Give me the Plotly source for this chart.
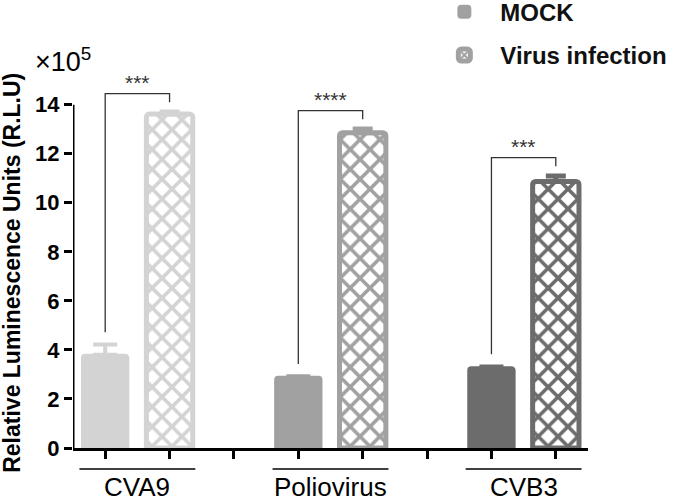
import plotly.graph_objects as go

categories = ["CVA9", "Poliovirus", "CVB3"]
series_names = ["MOCK", "Virus infection"]
mock_vals = [3.8, 2.91, 3.29]
mock_err = [0.42, 0.02, 0.03]
virus_vals = [13.62, 12.86, 10.87]
virus_err = [0.08, 0.15, 0.22]
significance = ["***", "****", "***"]
bar_colors = ["#d3d3d3", "#a1a1a1", "#6c6c6c"]
y_ticks = [0, 2, 4, 6, 8, 10, 12, 14]

# slot positions: mock / virus per group, with an empty slot between groups
mock_x = [3 * i for i in range(len(categories))]
virus_x = [3 * i + 1 for i in range(len(categories))]
all_slots = list(range(3 * len(categories) - 1))

FONT = "Arial, Liberation Sans, sans-serif"
fig = go.Figure()

for i, cat in enumerate(categories):
    col = bar_colors[i]
    fig.add_trace(go.Bar(
        x=[mock_x[i]], y=[mock_vals[i]], width=0.72,
        name=series_names[0], legendgroup="mock", legendrank=1,
        showlegend=(i == 1),
        marker=dict(color=col, line=dict(color=col, width=2), cornerradius=3),
        error_y=dict(type="data", array=[mock_err[i]], symmetric=False, arrayminus=[0],
                     color=col, thickness=4, width=12),
    ))
    fig.add_trace(go.Bar(
        x=[virus_x[i]], y=[virus_vals[i]], width=0.72,
        name=series_names[1], legendgroup="virus", legendrank=2,
        showlegend=(i == 1),
        marker=dict(color=col, line=dict(color=col, width=5), cornerradius=3,
                    pattern=dict(shape="x", fgcolor=col, bgcolor="white",
                                 size=14, solidity=0.45, fillmode="replace")),
        error_y=dict(type="data", array=[virus_err[i]], symmetric=False, arrayminus=[0],
                     color=col, thickness=5, width=10),
    ))

shapes = []
annotations = []
# y axis line up to the top tick
shapes.append(dict(type="line", xref="x", yref="y", x0=-0.5, x1=-0.5, y0=0, y1=y_ticks[-1],
                   line=dict(color="black", width=3)))

for i, cat in enumerate(categories):
    xl, xr = mock_x[i], virus_x[i]
    yl = mock_vals[i] + mock_err[i] + 0.5
    yr = virus_vals[i] + virus_err[i] + 0.4
    yt = virus_vals[i] + virus_err[i] + 0.75
    shapes.append(dict(type="path", xref="x", yref="y",
                       path=f"M {xl},{yl} L {xl},{yt} L {xr},{yt} L {xr},{yr}",
                       line=dict(color="#333333", width=1.3)))
    annotations.append(dict(x=(xl + xr) / 2, y=yt - 0.1, xref="x", yref="y", text=significance[i],
                            showarrow=False, yanchor="bottom",
                            font=dict(family=FONT, size=21, color="#333333")))
    cx = (xl + xr) / 2
    shapes.append(dict(type="line", xref="x", yref="paper", x0=cx - 0.9, x1=cx + 0.9,
                       y0=-0.059, y1=-0.059, line=dict(color="black", width=1.5)))
    annotations.append(dict(x=cx, y=-0.108, xref="x", yref="paper", text=cat,
                            showarrow=False, yanchor="middle",
                            font=dict(family=FONT, size=26, color="black")))

annotations.append(dict(x=-0.12, y=0.49, xref="paper", yref="paper",
                        text="Relative Luminescence Units (R.L.U)", textangle=-90,
                        showarrow=False, xanchor="center", yanchor="middle",
                        font=dict(family=FONT, size=23, color="black", weight="bold")))
annotations.append(dict(x=-0.077, y=1.085, xref="paper", yref="paper",
                        text="×10<sup>5</sup>", showarrow=False,
                        xanchor="left", yanchor="middle",
                        font=dict(family=FONT, size=27, color="black")))

fig.update_layout(
    width=675, height=503,
    margin=dict(l=73, r=87, t=90, b=55, autoexpand=False),
    plot_bgcolor="white", paper_bgcolor="white",
    barmode="overlay",
    showlegend=True,
    legend=dict(x=0.69, y=1.28, xanchor="left", yanchor="top",
                font=dict(family=FONT, size=24, color="#111111", weight="bold"),
                itemwidth=62, tracegroupgap=9, bgcolor="rgba(0,0,0,0)"),
    shapes=shapes, annotations=annotations,
    xaxis=dict(range=[-0.5, all_slots[-1] + 0.5], tickvals=all_slots,
               ticktext=["" for _ in all_slots], ticks="outside", ticklen=8,
               tickwidth=3, tickcolor="black", showline=True, linecolor="black",
               linewidth=3, showgrid=False, zeroline=False),
    yaxis=dict(range=[0, 14.6], tickvals=y_ticks, ticks="outside", ticklen=8,
               tickwidth=3, tickcolor="black", showline=False, showgrid=False,
               zeroline=False,
               tickfont=dict(family=FONT, size=22, color="black", weight="bold")),
)

fig.write_html("out.html", config={"displayModeBar": False},
               post_script="document.body.style.margin='0';")
